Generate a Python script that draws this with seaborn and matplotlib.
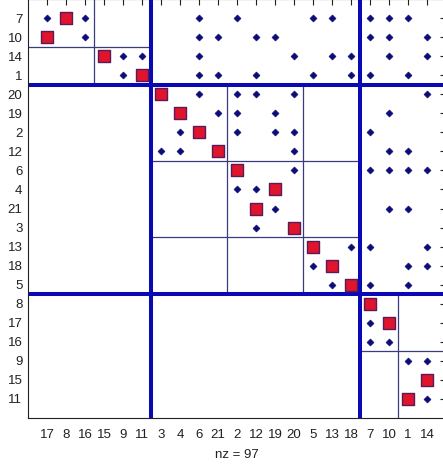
import numpy as np
import pandas as pd
import matplotlib
matplotlib.use("Agg")
import matplotlib.pyplot as plt
import seaborn as sns

# ---- data ----
row_labels = [7, 10, 14, 1, 20, 19, 2, 12, 6, 4, 21, 3, 13, 18, 5, 8, 17, 16, 9, 15, 11]
col_labels = [17, 8, 16, 15, 9, 11, 3, 4, 6, 21, 2, 12, 19, 20, 5, 13, 18, 7, 10, 1, 14]

# nonzero columns (by column label) for each row label
row_nonzeros = {
    7:  [17, 8, 16, 6, 2, 5, 13, 7, 10, 1],
    10: [17, 16, 6, 21, 12, 19, 7, 10, 14],
    14: [15, 9, 11, 6, 20, 13, 18, 10, 14],
    1:  [9, 11, 6, 21, 12, 5, 18, 7, 1],
    20: [3, 6, 2, 12, 20, 14],
    19: [4, 21, 2, 19, 10],
    2:  [4, 6, 2, 19, 20, 7],
    12: [3, 4, 21, 20, 10, 1],
    6:  [2, 20, 7, 10, 1, 14],
    4:  [2, 12, 19],
    21: [12, 19, 10, 1],
    3:  [12, 20],
    13: [5, 18, 7, 14],
    18: [5, 13, 1, 14],
    5:  [13, 18, 7, 1],
    8:  [7],
    17: [7, 10],
    16: [7, 10],
    9:  [1, 14],
    15: [14],
    11: [1, 14],
}
# matched (highlighted) column label for each row label
row_match = {
    7: 8, 10: 17, 14: 15, 1: 11, 20: 3, 19: 4, 2: 6, 12: 21, 6: 2, 4: 19,
    21: 12, 3: 20, 13: 5, 18: 13, 5: 18, 8: 7, 17: 10, 15: 14, 11: 1,
}
# block structure (sizes of fine blocks inside each coarse block)
coarse_row_sizes = [[2, 2], [4, 4, 3], [3, 3]]
coarse_col_sizes = [[3, 3], [4, 4, 3], [2, 2]]
nz_count = 97

# ---- build frames ----
rpos = {r: i + 1 for i, r in enumerate(row_labels)}
cpos = {c: i + 1 for i, c in enumerate(col_labels)}
nz = pd.DataFrame([(cpos[c], rpos[r]) for r, cs in row_nonzeros.items() for c in cs],
                  columns=["col", "row"])
mt = pd.DataFrame([(cpos[c], rpos[r]) for r, c in row_match.items()],
                  columns=["col", "row"])

sns.set_style("white")
plt.rcParams["font.family"] = ["Liberation Sans", "DejaVu Sans"]

W, H = 443, 466
fig = plt.figure(figsize=(W / 100, H / 100), dpi=100)
ax = fig.add_axes([28 / W, 48 / H, 418 / W, 419 / H])

n = len(row_labels)
ax.set_xlim(0, n + 1)
ax.set_ylim(n + 1, 0)

thick_c = "#0a0ab4"
thin_c = "#3a3a80"

# block lines
rb = np.cumsum([0] + [sum(s) for s in coarse_row_sizes])  # coarse row boundaries
cb = np.cumsum([0] + [sum(s) for s in coarse_col_sizes])
for k in range(len(coarse_row_sizes)):
    y0 = 0 if k == 0 else rb[k] + 0.5
    y1 = n + 1 if k == len(coarse_row_sizes) - 1 else rb[k + 1] + 0.5
    x0 = 0 if k == 0 else cb[k] + 0.5
    x1 = n + 1 if k == len(coarse_col_sizes) - 1 else cb[k + 1] + 0.5
    for b in np.cumsum(coarse_row_sizes[k])[:-1]:
        ax.plot([x0, x1], [rb[k] + b + 0.5] * 2, color=thin_c, lw=0.9, zorder=1)
    for b in np.cumsum(coarse_col_sizes[k])[:-1]:
        ax.plot([cb[k] + b + 0.5] * 2, [y0, y1], color=thin_c, lw=0.9, zorder=1)
for b in rb[1:-1]:
    ax.plot([0, n + 1], [b + 0.5] * 2, color=thick_c, lw=2.9, zorder=2)
for b in cb[1:-1]:
    ax.plot([b + 0.5] * 2, [0, n + 1], color=thick_c, lw=2.9, zorder=2)

sns.scatterplot(data=nz, x="col", y="row", marker="D", s=13, color="#0c0c78",
                edgecolor="#0c0c78", linewidth=0.4, ax=ax, zorder=3, legend=False)
sns.scatterplot(data=mt, x="col", y="row", marker="s", s=72, color="#e0142a",
                edgecolor="#5a1a5e", linewidth=1.0, ax=ax, zorder=4, legend=False)

ax.set_xticks(range(1, n + 1))
ax.set_xticklabels([str(c) for c in col_labels])
ax.set_yticks(range(1, n + 1))
ax.set_yticklabels([str(r) for r in row_labels])
ax.tick_params(direction="in", length=4, width=0.8, top=True, right=True,
               labelsize=9.5, colors="#202020")
ax.tick_params(axis="x", pad=8)
ax.tick_params(axis="y", pad=4)
ax.set_xlabel(f"nz = {nz_count}", fontsize=9.5, color="#202020", labelpad=5.5)
ax.set_ylabel("")
for sp in ax.spines.values():
    sp.set_color("#202020")
    sp.set_linewidth(0.8)

fig.savefig("out.png", dpi=100)
